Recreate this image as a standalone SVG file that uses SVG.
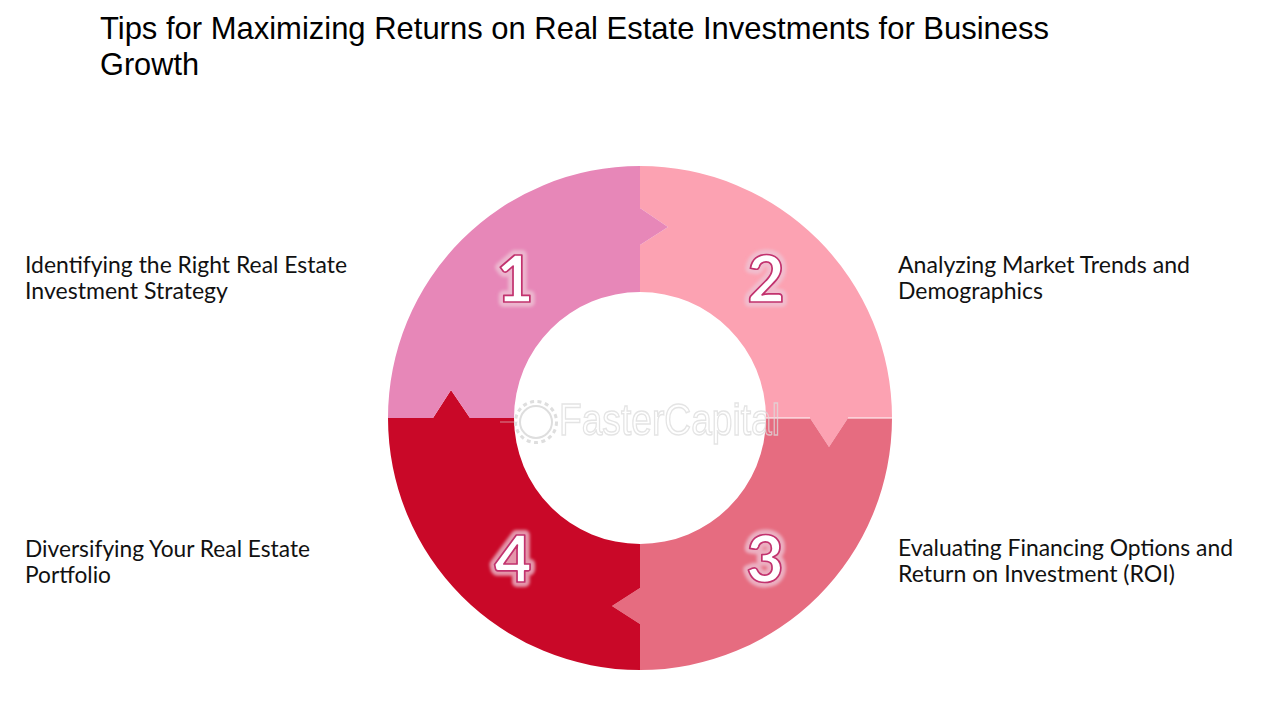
<svg xmlns="http://www.w3.org/2000/svg" width="1280" height="720" viewBox="0 0 1280 720">
<style>
.t{font-family:"Liberation Sans",Arial,sans-serif;font-size:30.5px;fill:#000}
.l{font-family:Lato,"Open Sans",sans-serif;font-size:23.5px;fill:#111}
.g{font-family:Lato,"Open Sans",sans-serif;font-weight:900;font-size:64px;text-anchor:middle}
.gl{fill:none;stroke:#eec6d6;stroke-opacity:.75;stroke-width:10;stroke-linejoin:round}
.gs{fill:#fff;stroke:#c2326e;stroke-width:1.7;stroke-linejoin:round}
.w{font-family:"Liberation Sans",Arial,sans-serif;font-size:44px;fill:none;stroke:#dcdcdc;stroke-width:1.5;opacity:.75}
</style>
<defs>
<filter id="blur" x="-30%" y="-30%" width="160%" height="160%"><feGaussianBlur stdDeviation="1.5"/></filter>
</defs>
<rect width="1280" height="720" fill="#fff"/>
<g id="title"><text class="t" x="100" y="38.500" textLength="949" lengthAdjust="spacingAndGlyphs">Tips for Maximizing Returns on Real Estate Investments for Business</text><text class="t" x="100" y="74.500" textLength="99" lengthAdjust="spacingAndGlyphs">Growth</text></g>
<g id="node-2"><path d="M640 166A252 252 0 0 1 892 418H848L829 447L810 418H766A126 126 0 0 0 640 292V245L668 227L640 208Z" fill="#FCA2B2"/></g>
<g id="node-3"><path d="M892 418A252 252 0 0 1 640 670V624L612 606L640 588V544A126 126 0 0 0 766 418H810L829 447L848 418Z" fill="#E66C80"/></g>
<g id="node-4"><path d="M640 670A252 252 0 0 1 388 418H433L451 390L470 418H514A126 126 0 0 0 640 544V588L612 606L640 624Z" fill="#C90828"/></g>
<g id="node-1"><path d="M388 418A252 252 0 0 1 640 166V208L668 227L640 245V292A126 126 0 0 0 514 418H470L451 390L433 418Z" fill="#E787B8"/></g>
<g id="connectors"><path d="M766 418H810M848 418H892" stroke="#fff" stroke-width="1" fill="none"/></g>
<g id="watermark">
<circle cx="536" cy="422" r="16" fill="none" stroke="#dedede" stroke-width="2"/>
<circle cx="536" cy="422" r="20.500" fill="none" stroke="#dedede" stroke-width="3" stroke-dasharray="4 3.500"/>
<path d="M500 422H518" stroke="#dedede" stroke-width="1" opacity=".6"/>
<text class="w" x="559" y="435" textLength="221" lengthAdjust="spacingAndGlyphs">FasterCapital</text>
</g>
<g id="digits">
<g filter="url(#blur)"><text class="g gl" x="515" y="302">1</text><text class="g gl" x="766" y="302">2</text><text class="g gl" x="765" y="582">3</text><text class="g gl" x="513" y="582">4</text></g>
<text class="g gs" x="515" y="302">1</text><text class="g gs" x="766" y="302">2</text><text class="g gs" x="765" y="582">3</text><text class="g gs" x="513" y="582">4</text>
</g>
<g id="label-1"><text class="l" x="25" y="273" textLength="322" lengthAdjust="spacingAndGlyphs">Identifying the Right Real Estate</text><text class="l" x="25" y="299" textLength="203" lengthAdjust="spacingAndGlyphs">Investment Strategy</text></g>
<g id="label-2"><text class="l" x="898" y="273" textLength="292" lengthAdjust="spacingAndGlyphs">Analyzing Market Trends and</text><text class="l" x="898" y="299" textLength="145" lengthAdjust="spacingAndGlyphs">Demographics</text></g>
<g id="label-3"><text class="l" x="898" y="556" textLength="335" lengthAdjust="spacingAndGlyphs">Evaluating Financing Options and</text><text class="l" x="898" y="582" textLength="277" lengthAdjust="spacingAndGlyphs">Return on Investment (ROI)</text></g>
<g id="label-4"><text class="l" x="25" y="557" textLength="285" lengthAdjust="spacingAndGlyphs">Diversifying Your Real Estate</text><text class="l" x="25" y="583" textLength="86" lengthAdjust="spacingAndGlyphs">Portfolio</text></g>
</svg>
